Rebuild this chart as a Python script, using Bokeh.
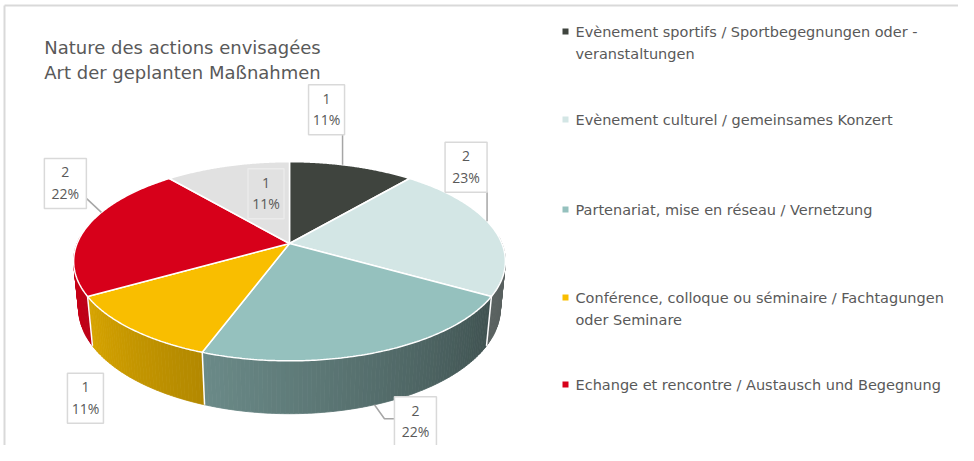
import numpy as np
from bokeh.plotting import figure
from bokeh.models import Range1d
from bokeh.embed import file_html
from bokeh.resources import INLINE
from bokeh.core.properties import value

# ---------------- data ----------------
counts = [1, 2, 2, 1, 2, 1]
pct_labels = ["11%", "23%", "22%", "11%", "22%", "11%"]
slice_colors = ["#3f443e", "#d3e6e5", "#95c1be", "#f9be00", "#d7001a", "#e1e1e1"]
legend_lines = [
    ["Evènement sportifs / Sportbegegnungen oder -", "veranstaltungen"],
    ["Evènement culturel / gemeinsames Konzert"],
    ["Partenariat, mise en réseau / Vernetzung"],
    ["Conférence, colloque ou séminaire / Fachtagungen", "oder Seminare"],
    ["Echange et rencontre / Austausch und Begegnung"],
]
title_lines = ["Nature des actions envisagées", "Art der geplanten Maßnahmen"]

# ---------------- layout / style ----------------
FONT = value("DejaVu Sans")
LFONT = value("Open Sans")
TXT = "#595959"
E = np.radians(27.0)
DIST = 5.0
HGT = 0.25
CX, CY, K = 289.0, 243.0, 1062.0

# per label: (angle, height on pie, box offset from anchor, leader path offsets)
label_layout = [
    dict(phi=17, z=HGT, r=1.0, box=(-16, -55), path=[(0, -31)]),
    dict(phi=76, z=HGT, r=1.0, box=(-21, -54), path=[(0, -29)]),
    dict(phi=160, z=0.0, r=1.0, box=(41, 17), path=[(10, 14), (21, 14)]),
    dict(phi=220, z=0.0, r=1.0, box=(-50, 18), path=[]),
    dict(phi=290, z=HGT, r=1.0, box=(-36, -29), path=[(-15, -14)]),
    dict(phi=340, z=HGT, r=0.5, box=(10, -8), path=[]),
]


def proj(phi_deg, z, r=1.0):
    phi = np.radians(np.asarray(phi_deg, dtype=float))
    px, py, pz = r * np.sin(phi), r * np.cos(phi), z
    cx_, cy_, cz_ = 0.0, -DIST * np.cos(E), HGT + DIST * np.sin(E)
    qx, qy, qz = px - cx_, py - cy_, pz - cz_
    depth = qy * np.cos(E) - qz * np.sin(E)
    up = qy * np.sin(E) + qz * np.cos(E)
    return CX + K * qx / depth, CY - K * up / depth


def shade(hexc, f):
    rgb = [int(hexc[i:i + 2], 16) for i in (1, 3, 5)]
    return "#%02x%02x%02x" % tuple(min(255, int(round(v * f))) for v in rgb)


total = sum(counts)
bounds = np.concatenate([[0.0], np.cumsum(counts)]) / total * 360.0

p = figure(width=958, height=445, x_range=Range1d(0, 958), y_range=Range1d(445, 0),
           output_backend="svg", toolbar_location=None, min_border=0,
           x_axis_location=None, y_axis_location=None)
p.grid.visible = False
p.outline_line_color = None
p.background_fill_color = "white"
p.border_fill_color = "white"

# chart border (top / left)
p.line([4, 958], [5, 5], line_color="#d9d9d9", line_width=2)
p.line([4, 4], [5, 445], line_color="#d9d9d9", line_width=2)

# ---- side walls
sx, sy, sc = [], [], []
for i in range(len(counts)):
    a0, a1 = max(bounds[i], 86.0), min(bounds[i + 1], 274.0)
    if a1 <= a0:
        continue
    n = int(np.ceil(a1 - a0))
    edges = np.linspace(a0, a1, n + 1)
    for j in range(n):
        pa, pb = edges[j], edges[j + 1]
        xat, yat = proj(pa, HGT)
        xbt, ybt = proj(pb, HGT)
        xab, yab = proj(pa, 0.0)
        xbb, ybb = proj(pb, 0.0)
        sx.append([xat, xbt, xbb, xab])
        sy.append([yat, ybt, ybb, yab])
        f = float(np.clip(0.42 + ((pa + pb) / 2 - 120) * 0.0037, 0.42, 0.92))
        sc.append(shade(slice_colors[i], f))
p.patches(sx, sy, fill_color=sc, line_color=sc, line_width=0.8)

# white separators on the side
for b in bounds:
    if 90 < b < 270:
        xt, yt = proj(b, HGT)
        xb, yb = proj(b, 0.0)
        p.line([float(xt), float(xb)], [float(yt), float(yb)], line_color="white", line_width=1.5)

# ---- top faces
tx, ty = [], []
for i in range(len(counts)):
    arc = np.linspace(bounds[i], bounds[i + 1], 120)
    ax, ay = proj(arc, HGT)
    tx.append([CX] + list(ax))
    ty.append([CY] + list(ay))
p.patches(tx, ty, fill_color=slice_colors, line_color="white", line_width=1.5)

# ---- data labels
for i, lay in enumerate(label_layout):
    axp, ayp = proj(lay["phi"], lay["z"], lay["r"])
    axp, ayp = float(axp), float(ayp)
    bx, by = axp + lay["box"][0], ayp + lay["box"][1]
    pct = pct_labels[i]
    w = 16 + sum(5 if ch == "1" else (10 if ch == "%" else 8) for ch in pct)
    hgt = 50
    if lay["path"]:
        px_ = [axp] + [axp + dx for dx, dy in lay["path"]]
        py_ = [ayp] + [ayp + dy for dx, dy in lay["path"]]
        p.line(px_, py_, line_color="#a6a6a6", line_width=1.5)
    inside = lay["r"] < 1.0
    p.rect([bx], [by], width=w, height=hgt, width_units="screen", height_units="screen",
           fill_color=None if inside else "white",
           line_color="#ebebeb" if inside else "#d9d9d9", line_width=1.5)
    p.text([bx, bx], [by - 11, by + 10], text=[str(counts[i]), pct],
           text_font=LFONT, text_font_size="14px", text_color=TXT,
           text_align="center", text_baseline="middle")

# ---- title
p.text([182, 182], [47, 72], text=title_lines, text_font=FONT, text_font_size="18px",
       text_color=TXT, text_align="center", text_baseline="middle")

# ---- legend
ly = [31, 119, 209, 297, 384]
for i, lines in enumerate(legend_lines):
    p.rect([565], [ly[i]], width=6, height=6, width_units="screen", height_units="screen",
           fill_color=slice_colors[i], line_color=None)
    p.text([575] * len(lines), [ly[i] + 22 * k for k in range(len(lines))], text=lines,
           text_font=FONT, text_font_size="14.5px", text_color=TXT,
           text_align="left", text_baseline="middle")

open("out.html", "w").write(file_html(p, INLINE))
